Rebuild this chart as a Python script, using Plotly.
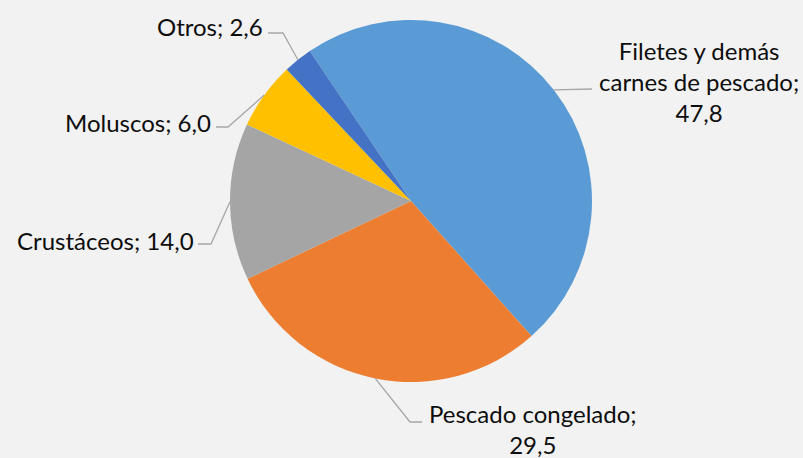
import math
import plotly.graph_objects as go

labels = ["Filetes y demás carnes de pescado", "Pescado congelado", "Crustáceos", "Moluscos", "Otros"]
values = [47.8, 29.5, 14.0, 6.0, 2.6]
label_text = ["Filetes y demás<br>carnes de pescado;<br>47,8", "Pescado congelado;<br>29,5",
              "Crustáceos; 14,0", "Moluscos; 6,0", "Otros; 2,6"]
colors = ["#5B9BD5", "#ED7D31", "#A5A5A5", "#FFC000", "#4472C4"]

W, H = 803, 458
CX, CY, R = 411, 201, 181
ROT = -34

fig = go.Figure(go.Pie(
    labels=labels, values=values, sort=False, direction="clockwise", rotation=ROT,
    marker=dict(colors=colors, line=dict(width=0)), textinfo="none", hoverinfo="label+value",
    domain=dict(x=[(CX - R) / W, (CX + R) / W], y=[1 - (CY + R) / H, 1 - (CY - R) / H]),
))

# label placement (layout), leader start from slice mid-angle (data)
lab_pos = [  # (x, y, xanchor, elbow points)
    (699, 82, "center", [(592, 89)]),
    (533, 429, "center", [(410, 422), (422, 422)]),
    (196, 241, "right", [(211, 244), (198, 244)]),
    (213, 122, "right", [(228, 127), (216, 127)]),
    (265, 27, "right", [(283, 33), (268, 33)]),
]
aligns = ["center", "center", "right", "right", "right"]

total = sum(values)
cum = 0
shapes = []
annotations = []
for i, v in enumerate(values):
    mid = ROT + (cum + v / 2) / total * 360
    cum += v
    a = math.radians(mid)
    sx, sy = CX + R * math.sin(a), CY - R * math.cos(a)
    pts = [(sx, sy)] + lab_pos[i][3]
    path = "M " + " L ".join(f"{x / W:.5f},{1 - y / H:.5f}" for x, y in pts)
    shapes.append(dict(type="path", path=path, xref="paper", yref="paper",
                       line=dict(color="#A6A6A6", width=1.3)))
    x, y, xa, _ = lab_pos[i]
    annotations.append(dict(text=label_text[i], x=x / W, y=1 - y / H, xref="paper", yref="paper",
                            xanchor=xa, yanchor="middle", showarrow=False, align=aligns[i],
                            font=dict(family="Lato", size=24, color="#0D0D0D")))

fig.update_layout(width=W, height=H, margin=dict(l=0, r=0, t=0, b=0),
                  paper_bgcolor="#F2F2F2", plot_bgcolor="#F2F2F2", showlegend=False,
                  shapes=shapes, annotations=annotations)
fig.write_html("out.html", config={"displayModeBar": False},
               post_script="document.body.style.margin='0';")
